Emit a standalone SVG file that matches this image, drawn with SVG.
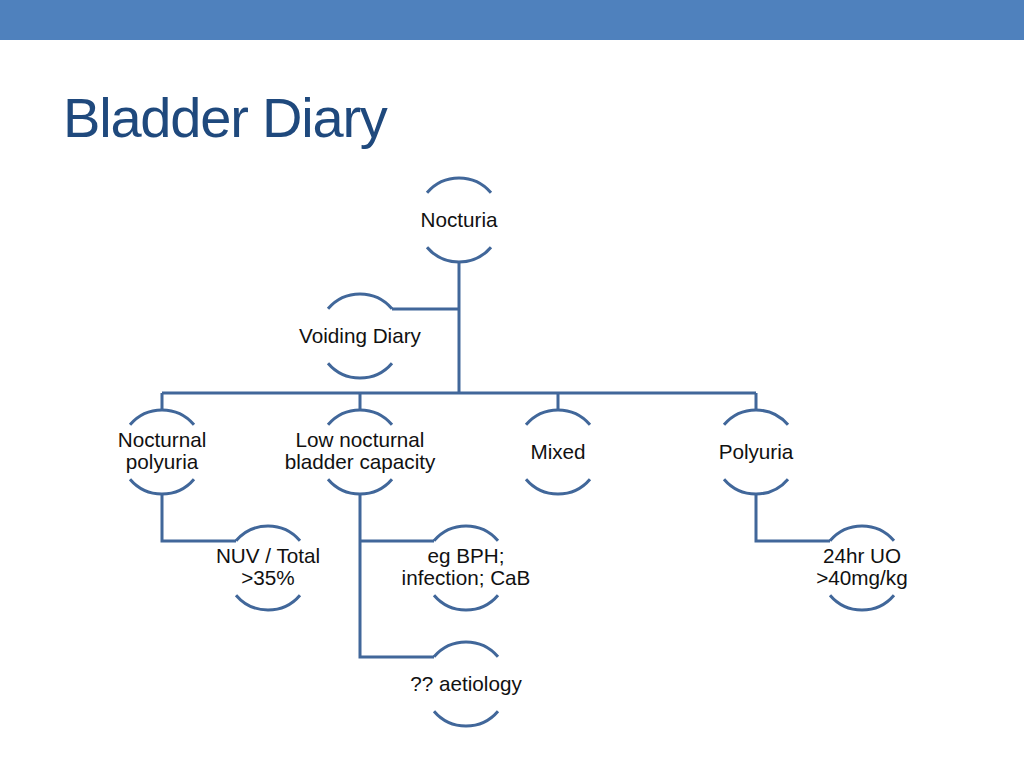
<svg xmlns="http://www.w3.org/2000/svg" width="1024" height="768" viewBox="0 0 1024 768">
<style>
.arc{fill:none;stroke:#41679a;stroke-width:3}
.con{fill:none;stroke:#41679a;stroke-width:3}
.lbl{font-family:"Liberation Sans",Arial,sans-serif;font-size:20.7px;fill:#111;text-anchor:middle}
.title{font-family:"Liberation Sans",Arial,sans-serif;font-size:56px;fill:#1f497d;letter-spacing:-1.2px}
</style>
<defs>
<path id="ring" d="M-32,-27.2 A42,42 0 0 1 32,-27.2 M-32,27.2 A42,42 0 0 0 32,27.2"/>
</defs>
<rect x="0" y="0" width="1024" height="40" fill="#4f81bd"/>
<text class="title" x="63" y="137">Bladder Diary</text>
<g id="connectors">
<path class="con" d="M459,262 V393"/>
<path class="con" d="M459,309 H392"/>
<path class="con" d="M162,393 H756"/>
<path class="con" d="M162,393 V410 M360,393 V410 M558,393 V410 M756,393 V410"/>
<path class="con" d="M162,494 V541 H236"/>
<path class="con" d="M360,494 V657 H434 M360,541 H434"/>
<path class="con" d="M756,494 V541 H830"/>
</g>
<g id="nocturia" transform="translate(459,220)"><use href="#ring" class="arc"/><text class="lbl" y="7">Nocturia</text></g>
<g id="voiding-diary" transform="translate(360,336)"><use href="#ring" class="arc"/><text class="lbl" y="7">Voiding Diary</text></g>
<g id="nocturnal-polyuria" transform="translate(162,452)"><use href="#ring" class="arc"/><text class="lbl" y="-5">Nocturnal</text><text class="lbl" y="17">polyuria</text></g>
<g id="low-nocturnal" transform="translate(360,452)"><use href="#ring" class="arc"/><text class="lbl" y="-5">Low nocturnal</text><text class="lbl" y="17">bladder capacity</text></g>
<g id="mixed" transform="translate(558,452)"><use href="#ring" class="arc"/><text class="lbl" y="7">Mixed</text></g>
<g id="polyuria" transform="translate(756,452)"><use href="#ring" class="arc"/><text class="lbl" y="7">Polyuria</text></g>
<g id="nuv-total" transform="translate(268,568)"><use href="#ring" class="arc"/><text class="lbl" y="-5">NUV / Total</text><text class="lbl" y="17">&gt;35%</text></g>
<g id="eg-bph" transform="translate(466,568)"><use href="#ring" class="arc"/><text class="lbl" y="-5">eg BPH;</text><text class="lbl" y="17">infection; CaB</text></g>
<g id="aetiology" transform="translate(466,684)"><use href="#ring" class="arc"/><text class="lbl" y="7">?? aetiology</text></g>
<g id="uo" transform="translate(862,568)"><use href="#ring" class="arc"/><text class="lbl" y="-5">24hr UO</text><text class="lbl" y="17">&gt;40mg/kg</text></g>
</svg>
